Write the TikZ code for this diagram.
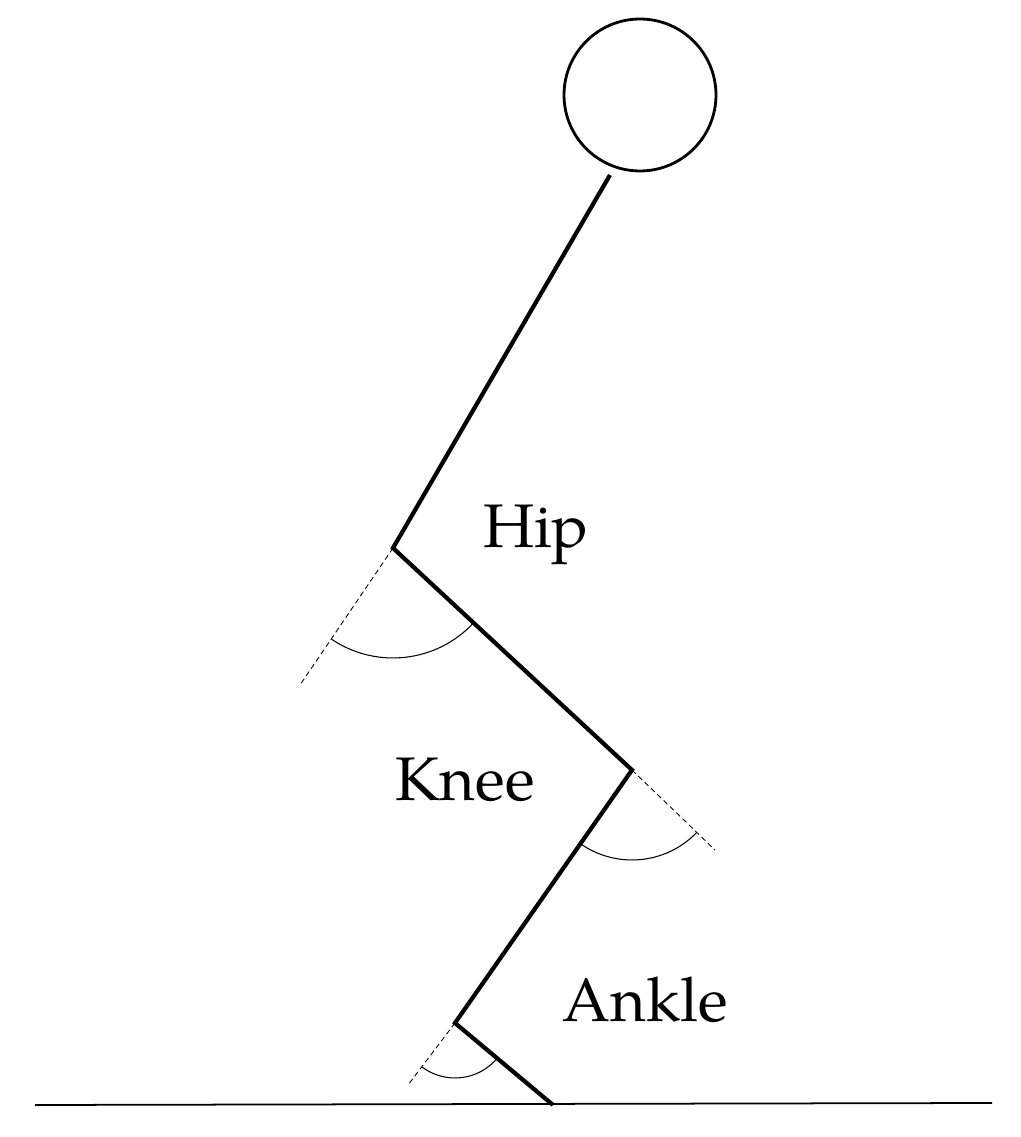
\documentclass[tikz,border=0pt]{standalone}
\usepackage{fontspec}
\setmainfont{TeX Gyre Pagella}[Extension=.otf,UprightFont=texgyrepagella-regular]
\begin{document}
\begin{tikzpicture}[x=0.02cm,y=0.02cm,
  limb/.style={line width=2.4pt},
  ext/.style={densely dashed,line width=0.5pt},
  ang/.style={line width=0.6pt},
  lbl/.style={font=\fontsize{35}{40}\selectfont}]
\useasboundingbox (0,0) rectangle (1021,1137);
\coordinate (headc) at (640,1042);
\node[draw,circle,line width=1.6pt,minimum size=3.04cm,inner sep=0] (head) at (headc) {};
\coordinate (neck) at (610,962);
\coordinate (hip) at (393,589);
\coordinate (knee) at (632,367);
\coordinate (ankle) at (455,114);
\coordinate (toe) at (553,32);
\coordinate (gl) at (35,32);
\coordinate (gr) at (992,34);
\coordinate (hipd) at (300,452);
\coordinate (kneed) at (715,287);
\coordinate (ankled) at (408,52);
\draw[limb,line join=miter] (neck) -- (hip) -- (knee) -- (ankle) -- (toe);
\draw[line width=1pt] (gl) -- (gr);
\draw[ext] (hip) -- (hipd);
\draw[ext] (knee) -- (kneed);
\draw[ext] (ankle) -- (ankled);
\draw[ang] (hip) ++(236:2.2cm) arc[start angle=236,end angle=317,radius=2.2cm];
\draw[ang] (knee) ++(235:1.8cm) arc[start angle=235,end angle=316,radius=1.8cm];
\draw[ang] (ankle) ++(233:1.1cm) arc[start angle=233,end angle=320,radius=1.1cm];
\node[lbl] (hiplbl) at (536,602) {Hip};
\node[lbl] (kneelbl) at (465,357) {Knee};
\node[lbl] (anklelbl) at (645,137) {Ankle};
\end{tikzpicture}
\end{document}
